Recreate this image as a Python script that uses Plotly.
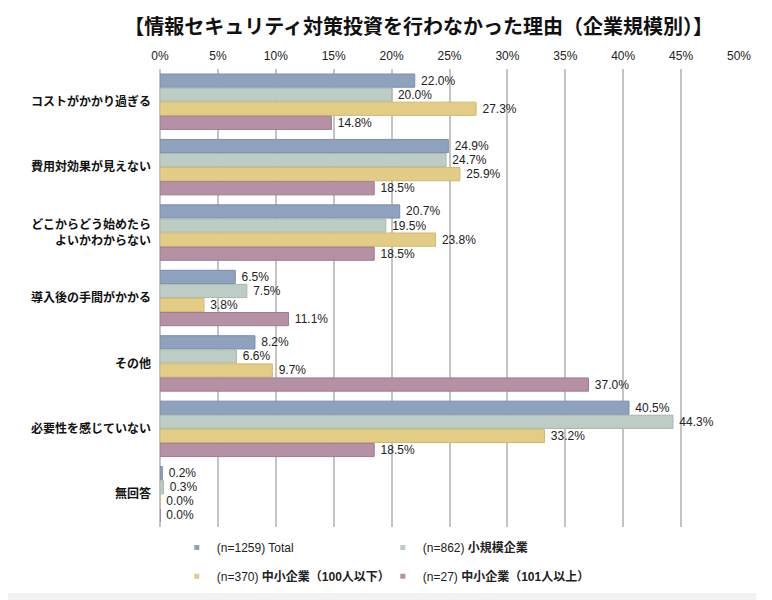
import plotly.graph_objects as go

# 理由カテゴリ
categories = [
    "コストがかかり過ぎる",
    "費用対効果が見えない",
    "どこからどう始めたら<br>よいかわからない",
    "導入後の手間がかかる",
    "その他",
    "必要性を感じていない",
    "無回答",
]

series_names = [
    "(n=1259) Total",
    "(n=862) <b>小規模企業</b>",
    "(n=370) <b>中小企業（100人以下）</b>",
    "(n=27) <b>中小企業（101人以上）</b>",
]

total = [22.0, 24.9, 20.7, 6.5, 8.2, 40.5, 0.2]
small = [20.0, 24.7, 19.5, 7.5, 6.6, 44.3, 0.3]
sme_100 = [27.3, 25.9, 23.8, 3.8, 9.7, 33.2, 0.0]
sme_101 = [14.8, 18.5, 18.5, 11.1, 37.0, 18.5, 0.0]

colors = ["#8fa2bd", "#bdccc4", "#e3cd86", "#b591a6"]
edge = ["#7a8eab", "#a7b9af", "#d2b96c", "#9f7a90"]

FONT = "Liberation Sans, Arial, Noto Sans CJK JP"

fig = go.Figure()
for name, vals, c, e in zip(series_names, [total, small, sme_100, sme_101], colors, edge):
    fig.add_trace(go.Bar(
        y=categories, x=vals, name=name, orientation="h", showlegend=False,
        marker=dict(color=c, line=dict(color=e, width=1)),
        text=[f"\u00a0{v:.1f}%" for v in vals], textposition="outside",
        constraintext="none",
        textfont=dict(size=12, color="#222", family=FONT),
        cliponaxis=False,
    ))

# 凡例（小さい四角マーカー）: 2行に分ける
for i, (name, c) in enumerate(zip(series_names, colors)):
    fig.add_trace(go.Scatter(
        x=[None], y=[None], mode="markers", name=name,
        marker=dict(symbol="square", size=5, color=c),
        legend="legend" if i < 2 else "legend2",
    ))

leg_common = dict(orientation="h", xanchor="left", yanchor="top",
                  entrywidth=161, entrywidthmode="pixels", traceorder="normal",
                  font=dict(size=12, color="#222", family=FONT),
                  itemwidth=30, bgcolor="rgba(0,0,0,0)")

fig.update_layout(
    width=772, height=600,
    margin=dict(l=152, r=41, t=61, b=81),
    paper_bgcolor="white", plot_bgcolor="white",
    font=dict(family=FONT, size=12, color="#111"),
    barmode="group", bargap=0.14, bargroupgap=0.06,
    title=dict(text="<b>【情報セキュリティ対策投資を行わなかった理由（企業規模別）】</b>",
               x=0.532, xanchor="center", y=0.98,
               font=dict(size=20, color="#111", family="Noto Sans CJK JP")),
    legend=dict(x=0.029, y=-0.013, **leg_common),
    legend2=dict(x=0.029, y=-0.076, **leg_common),
    xaxis=dict(side="top", range=[0, 50], dtick=5, ticksuffix="%",
               showgrid=True, gridcolor="#c4c4c4", gridwidth=1.5,
               zeroline=True, zerolinecolor="#c4c4c4", zerolinewidth=1.5,
               showline=False, ticks="", automargin=False, ticklabelstandoff=6,
               tickfont=dict(size=12, color="#222")),
    yaxis=dict(autorange="reversed", ticks="", showline=False, automargin=False,
               tickfont=dict(size=12, color="#111", family="Noto Sans CJK JP"),
               ticklabelstandoff=8),
    shapes=[dict(type="rect", xref="paper", yref="paper",
                 x0=-0.27, x1=1.03, y0=-0.16, y1=-0.144,
                 fillcolor="#f2f2f2", line=dict(width=0), layer="below")],
)
fig.update_yaxes(tickvals=categories,
                 ticktext=[f"<b>{c}</b>" for c in categories])

fig.write_html("out.html")
